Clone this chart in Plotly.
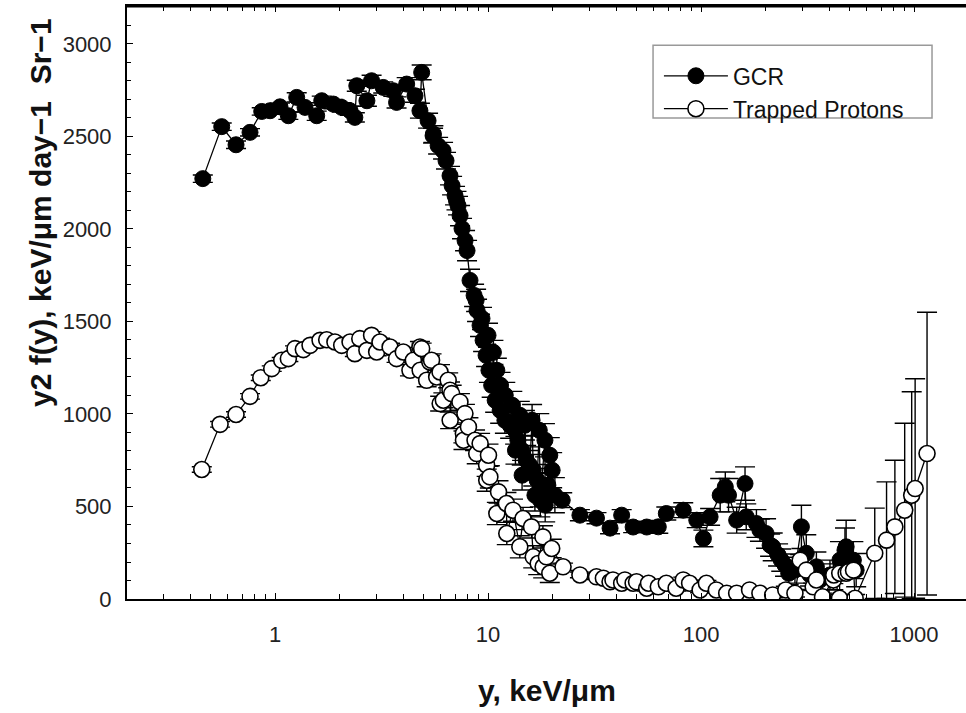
import plotly.graph_objects as go

# GCR lineal-energy spectrum: y (keV/um), y2 f(y), upper uncertainty
gcr_y = [0.458, 0.562, 0.656, 0.763, 0.866, 0.947, 1.055, 1.155, 1.264, 1.383,
         1.569, 1.657, 1.878, 2.056, 2.25, 2.37, 2.42, 2.70, 2.84, 3.22,
         3.59, 3.72, 4.15, 4.54, 4.79, 4.88, 5.23, 5.52, 5.54, 5.83,
         6.15, 6.35, 6.63, 6.78, 7.00, 7.11, 7.23, 7.39, 7.55, 7.80,
         7.97, 8.23, 8.60, 8.79, 8.88, 9.17, 9.37, 9.48, 9.79, 10.0,
         10.1, 10.4, 10.6, 10.8, 11.0, 11.4, 11.45, 12.0, 12.05, 12.7,
         13.0, 13.4, 13.45, 13.8, 14.1, 14.4, 14.45, 14.9, 15.1, 15.7,
         16.1, 16.3, 16.6, 17.0, 17.4, 17.5, 17.6, 18.5, 18.55, 19.1,
         19.5, 20.0, 20.6, 22.3, 27.0, 32.3, 37.4, 42.4, 48.0, 55.6,
         63.0, 68.7, 82.5, 95.5, 102.6, 110.3, 123, 130, 134.6, 147,
         160.9, 163, 182, 189, 202, 211, 217, 230, 238, 248,
         258, 276, 296, 312, 325, 348, 362, 403, 418, 449,
         474, 480, 519, 535]
gcr_f = [2272, 2553, 2455, 2522, 2635, 2639, 2660, 2612, 2711, 2657,
         2612, 2693, 2675, 2657, 2639, 2603, 2774, 2693, 2801, 2765,
         2747, 2684, 2783, 2720, 2639, 2846, 2585, 2504, 2513, 2450,
         2423, 2369, 2288, 2234, 2180, 2153, 2126, 2072, 2002, 1937,
         1883, 1722, 1641, 1614, 1560, 1479, 1516, 1398, 1317, 1425,
         1236, 1155, 1333, 1074, 1236, 1020, 1155, 966, 1101, 939,
         1047, 912, 804, 858, 993, 804, 669, 939, 750, 723,
         966, 696, 561, 642, 912, 588, 534, 858, 507, 615,
         777, 696, 561, 534, 453, 437, 383, 453, 389, 389,
         390, 462, 480, 426, 327, 444, 561, 606, 561, 426,
         624, 444, 408, 372, 354, 291, 282, 238, 210, 183,
         139, 156, 390, 247, 130, 174, 103, 130, 120, 210,
         264, 282, 210, 156]
gcr_err = [20, 20, 20, 20, 20, 20, 20, 20, 25, 25,
           25, 25, 25, 25, 25, 25, 30, 30, 30, 30,
           30, 30, 35, 35, 40, 40, 40, 40, 45, 45,
           45, 45, 50, 50, 50, 50, 50, 55, 55, 55,
           55, 60, 60, 60, 60, 60, 60, 60, 60, 65,
           65, 65, 65, 65, 65, 70, 70, 70, 70, 70,
           75, 75, 75, 75, 75, 80, 80, 80, 80, 80,
           85, 85, 85, 85, 90, 90, 90, 90, 90, 90,
           95, 95, 95, 40, 30, 30, 30, 30, 30, 30,
           35, 35, 40, 40, 45, 45, 90, 80, 90, 70,
           90, 70, 75, 60, 80, 60, 75, 60, 60, 60,
           60, 70, 117, 100, 60, 80, 60, 80, 70, 100,
           120, 144, 100, 90]

# Trapped-proton spectrum
tp_y = [0.453, 0.552, 0.656, 0.763, 0.857, 0.965, 1.075, 1.155, 1.241, 1.358,
        1.46, 1.627, 1.748, 1.911, 2.056, 2.25, 2.37, 2.50, 2.70, 2.84,
        3.00, 3.11, 3.47, 3.72, 4.00, 4.30, 4.46, 4.79, 4.80, 4.88,
        5.15, 5.33, 5.43, 5.74, 5.95, 5.96, 6.17, 6.5, 6.63, 6.64,
        6.75, 7.38, 7.66, 7.67, 7.79, 8.09, 8.69, 8.85, 9.18, 9.85,
        9.86, 10.05, 10.2, 11.0, 11.2, 12.2, 12.25, 13.1, 14.1, 14.6,
        16.0, 16.3, 17.2, 18.1, 18.15, 18.8, 19.5, 19.9, 22.5, 27.0,
        32.3, 34.8, 37.4, 38.6, 42.4, 43.9, 48.0, 49.8, 55.6, 56.7,
        63.0, 68.7, 76.4, 82.5, 88.4, 99, 106, 118, 132, 147,
        169, 189, 217, 250, 276, 292, 312, 336, 348, 372,
        418, 420, 447, 448, 480, 492, 520, 529, 654, 743,
        813, 904, 975, 1012, 1151]
tp_f = [700, 944, 997, 1095, 1196, 1245, 1290, 1299, 1353, 1348,
        1371, 1398, 1401, 1389, 1371, 1389, 1326, 1407, 1344, 1425,
        1335, 1389, 1362, 1299, 1335, 1236, 1290, 1362, 1236, 1353,
        1182, 1281, 1290, 1200, 1227, 1056, 1074, 1182, 1128, 966,
        1110, 1065, 894, 858, 1002, 930, 858, 786, 840, 723,
        642, 777, 660, 462, 579, 516, 354, 480, 282, 435,
        390, 228, 192, 336, 174, 228, 139, 273, 174, 130,
        120, 112, 93, 103, 85, 103, 85, 93, 58, 85,
        66, 85, 58, 103, 85, 49, 85, 49, 31, 31,
        49, 31, 22, 49, 31, 210, 156, 66, 103, 12,
        103, 130, 4, 139, 139, 147, 156, 4, 247, 318,
        390, 480, 561, 597, 786]
tp_err = [15, 15, 15, 15, 15, 15, 15, 15, 15, 15,
          15, 15, 15, 15, 15, 15, 15, 15, 15, 20,
          20, 20, 20, 20, 25, 30, 30, 30, 30, 30,
          35, 35, 35, 35, 40, 40, 40, 40, 45, 45,
          45, 45, 50, 50, 50, 50, 55, 55, 55, 60,
          60, 60, 60, 60, 60, 60, 60, 60, 60, 60,
          60, 60, 60, 60, 60, 60, 50, 50, 20, 15,
          15, 15, 15, 15, 15, 15, 15, 15, 15, 15,
          15, 15, 15, 15, 15, 15, 15, 15, 15, 15,
          15, 15, 15, 20, 20, 30, 30, 20, 20, 20,
          20, 20, 20, 20, 20, 20, 20, 20, 244, 315,
          360, 470, 559, 593, 764]

FONT = "Liberation Sans, Arial, sans-serif"

fig = go.Figure()

fig.add_trace(go.Scatter(
    x=gcr_y, y=gcr_f, name="GCR", mode="lines+markers",
    line=dict(color="black", width=1.3),
    marker=dict(symbol="circle", size=16, color="black",
                line=dict(color="black", width=1)),
    error_y=dict(type="data", array=gcr_err, color="black",
                 thickness=1.4, width=10),
))

fig.add_trace(go.Scatter(
    x=tp_y, y=tp_f, name="Trapped Protons", mode="lines+markers",
    line=dict(color="black", width=1.3),
    marker=dict(symbol="circle", size=16, color="white",
                line=dict(color="black", width=1.6)),
    error_y=dict(type="data", array=tp_err, color="black",
                 thickness=1.4, width=10),
))

tick_font = dict(family=FONT, size=22, color="#222")
title_font = dict(family=FONT, size=30, color="#111", weight="bold")

fig.update_layout(
    width=966, height=713,
    margin=dict(l=127, r=0, t=6, b=114),
    paper_bgcolor="white", plot_bgcolor="white",
    showlegend=True,
    legend=dict(
        x=0.634, y=0.9185, xanchor="left", yanchor="top",
        bgcolor="rgba(0,0,0,0)", borderwidth=0,
        font=dict(family=FONT, size=23, color="#111"),
        itemwidth=64,
    ),
    xaxis=dict(
        type="log", range=[-0.695, 3.244],
        showline=True, linecolor="black", linewidth=2, mirror="ticks",
        ticks="inside", ticklen=6, tickwidth=1.3, tickcolor="black",
        tickvals=[1, 10, 100, 1000], ticktext=["1", "10", "100", "1000"],
        minor=dict(ticks="inside", ticklen=5, tickwidth=1.3,
                   tickcolor="black", showgrid=False, dtick="D1"),
        showgrid=False, zeroline=False,
        tickfont=tick_font, ticklabelstandoff=15,
    ),
    yaxis=dict(
        range=[0, 3205],
        showline=True, linecolor="black", linewidth=2, mirror=False,
        ticks="inside", ticklen=6, tickwidth=1.3, tickcolor="black",
        dtick=500, tick0=0,
        minor=dict(ticks="inside", ticklen=4, tickwidth=1.3,
                   tickcolor="black", showgrid=False, dtick=100),
        showgrid=False, zeroline=False,
        tickfont=tick_font, ticklabelstandoff=9,
    ),
    yaxis2=dict(
        overlaying="y", side="right", matches="y",
        showline=False, ticks="inside", ticklen=6, tickwidth=1.3,
        tickcolor="black", dtick=500, tick0=0,
        showticklabels=False, showgrid=False, zeroline=False,
    ),
    shapes=[
        # legend frame
        dict(type="rect", xref="paper", yref="paper",
             x0=0.627, x1=0.9595, y0=0.811, y1=0.934,
             line=dict(color="#999", width=1.5), fillcolor="white",
             layer="above"),
        # heavier top frame line
        dict(type="line", xref="paper", yref="paper",
             x0=0, x1=1, y0=1, y1=1,
             line=dict(color="black", width=3)),
    ],
    annotations=[
        dict(text="y, keV/μm", xref="paper", yref="paper",
             x=0.5, y=-0.1535, xanchor="center", yanchor="middle",
             showarrow=False, font=title_font),
        dict(text="y2 f(y), keV/μm day−1  Sr−1", xref="paper", yref="paper",
             x=-0.1037, y=0.6526, xanchor="center", yanchor="middle",
             textangle=-90, showarrow=False, font=title_font),
    ],
)

fig.write_html("out.html")
